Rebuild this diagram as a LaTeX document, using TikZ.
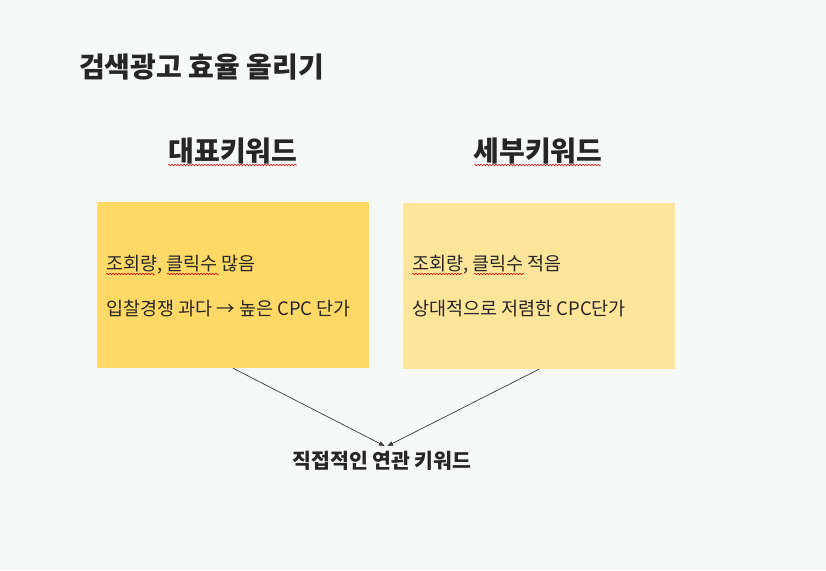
\documentclass[tikz,border=0pt]{standalone}
\usepackage{fontspec}
\setmainfont{Noto Sans CJK KR}
\usetikzlibrary{arrows.meta,decorations.pathmorphing}
\definecolor{bg}{HTML}{F7F8F8}
\definecolor{boxA}{HTML}{FFD966}
\definecolor{boxB}{HTML}{FFE599}
\definecolor{ink}{HTML}{262626}
\tikzset{
  titletext/.style={font=\bfseries\fontsize{28}{32}\selectfont, text=ink, anchor=west, inner sep=0pt},
  headtext/.style={font=\bfseries\fontsize{28}{32}\selectfont, text=ink, inner sep=0pt},
  bodytext/.style={font=\fontsize{18.5}{22}\selectfont, text=ink, anchor=west, inner sep=0pt},
  notebox/.style={minimum width=272pt, minimum height=166pt, inner sep=0pt, draw=none},
  conn/.style={draw=ink!90, line width=0.7pt, -{Latex[length=6pt,width=5pt]}},
  squig/.style={draw=red!85!black, line width=0.5pt, decorate, decoration={snake, segment length=3pt, amplitude=0.8pt}},
}
\begin{document}
\begin{tikzpicture}[x=1pt,y=-1pt]
\fill[bg] (0,0) rectangle (826,570);
\useasboundingbox (0,0) rectangle (826,570);
\node[titletext] (title) at (79,67) {검색광고 효율 올리기};
\node[headtext] (hA) at (233,151) {대표키워드};
\node[headtext] (hB) at (538,151) {세부키워드};
\node[notebox, fill=boxA] (A) at (233,285) {};
\node[notebox, fill=boxB] (B) at (539,286) {};
\node[bodytext] (a1) at (106,265) {조회량, 클릭수 많음};
\node[bodytext] (a2) at (106,309) {입찰경쟁 과다 → 높은 CPC 단가};
\node[bodytext] (b1) at (412,265) {조회량, 클릭수 적음};
\node[bodytext] (b2) at (412,309) {상대적으로 저렴한 CPC단가};
\node[font=\bfseries\fontsize{20.5}{24}\selectfont, text=ink, inner sep=0pt] (goal) at (382,461) {직접적인 연관 키워드};
\coordinate (tA) at ([xshift=3pt,yshift=5pt]goal.north);
\coordinate (tB) at ([xshift=5pt,yshift=5pt]goal.north);
\draw[conn] (A.south) -- (tA);
\draw[conn] (B.south) -- (tB);
% spell-check squiggles
\draw[squig] (168,165) -- (297,165);
\draw[squig] (474,165) -- (601,165);
\draw[squig] (106,274) -- (155,274);
\draw[squig] (167,274) -- (219,274);
\draw[squig] (412,274) -- (462,274);
\draw[squig] (474,274) -- (524,274);
\end{tikzpicture}
\end{document}
